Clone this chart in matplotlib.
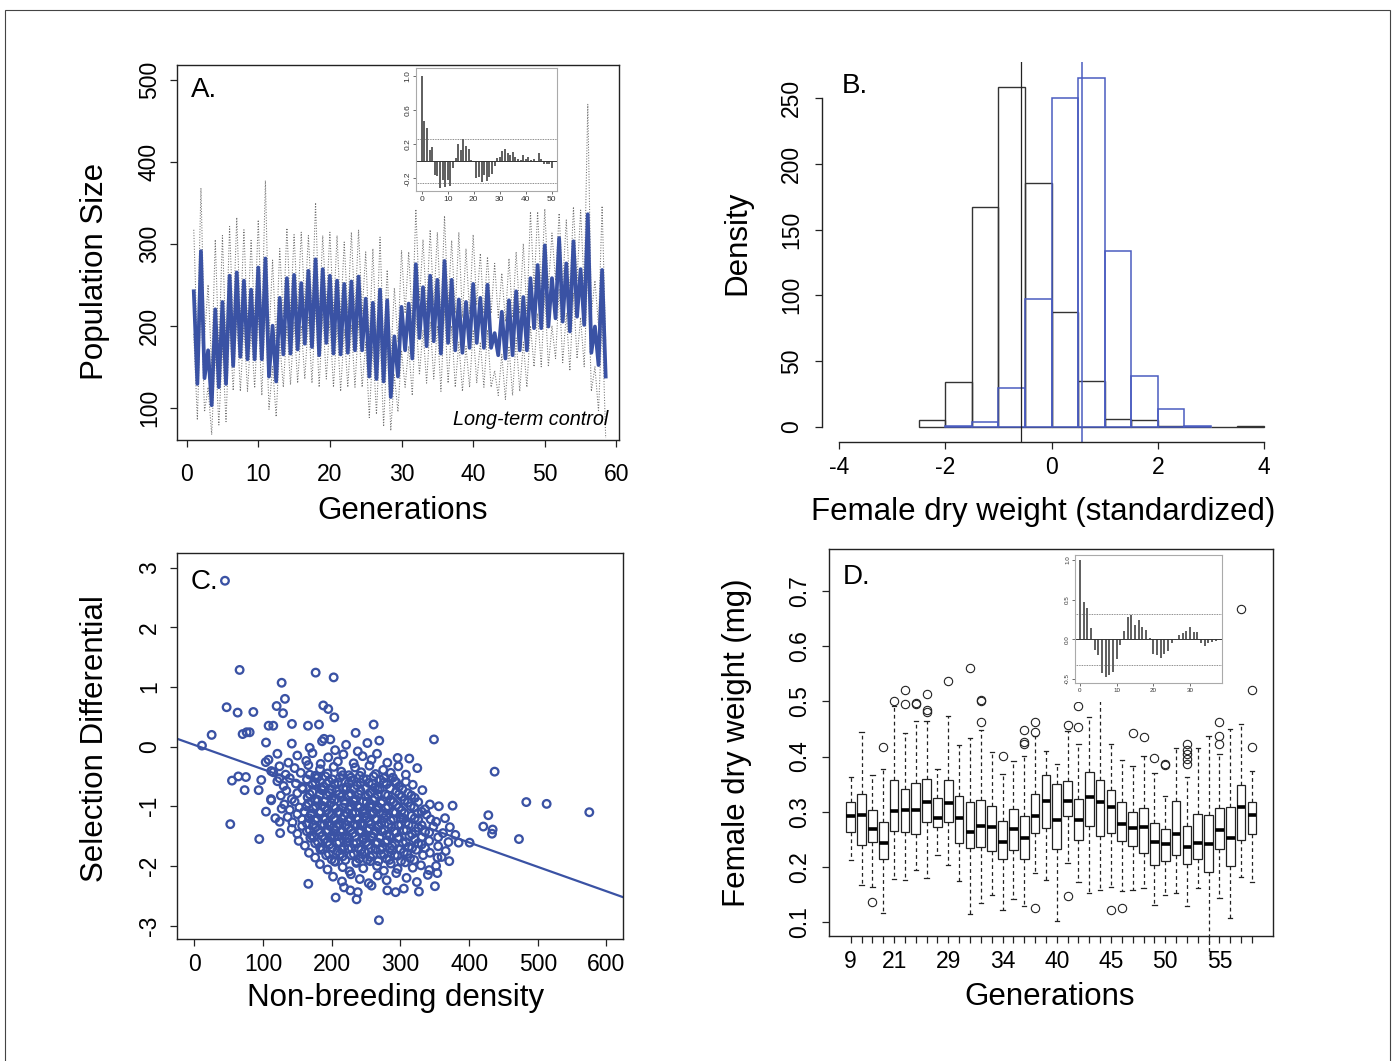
import numpy as np
import matplotlib.pyplot as plt
from matplotlib.patches import Rectangle

plt.rcParams['font.family'] = ['Liberation Sans', 'DejaVu Sans']
plt.rcParams['axes.unicode_minus'] = False

W, H = 1393, 1061
BLUE = '#3a52a4'
INK = '#222222'

# ---------------- data ----------------
# A: population size, two censuses per generation
pop_mean = [242,129,291,136,170,103,220,125,229,129,261,151,265,162,255,159,244,159,271,159,282,138,200,132,234,165,258,166,262,
            171,252,178,267,174,281,164,269,179,261,166,255,165,251,167,254,170,260,170,233,138,228,135,244,132,231,113,187,138,
            223,170,227,160,275,185,247,175,261,181,256,166,279,179,256,170,232,167,229,173,251,179,234,173,250,173,191,164,217,
            160,231,164,242,170,235,170,258,197,274,197,298,199,258,209,307,205,276,193,303,211,269,201,336,167,199,152,268,138]
pop_upper = [317,175,368,185,250,150,305,170,310,175,321,200,332,205,317,200,304,205,329,200,377,185,280,180,294,210,319,215,311,
             220,314,225,310,220,350,210,310,225,314,215,310,210,302,215,314,215,317,215,290,180,294,180,308,175,268,160,246,180,
             292,215,290,205,342,230,305,220,317,225,314,210,334,225,304,215,314,210,294,215,311,225,288,215,284,215,276,210,264,
             205,282,210,290,215,300,215,339,245,339,245,343,245,313,255,337,250,329,240,345,255,341,245,470,215,255,200,346,180]
pop_lower = [190,85,235,95,125,67,170,79,175,83,205,121,210,120,200,120,195,124,215,115,225,98,150,89,180,125,200,128,205,
             130,200,135,210,130,225,125,215,135,205,125,200,120,195,125,200,125,205,125,180,88,175,92,190,77,180,72,140,95,
             170,125,175,115,215,140,195,130,205,135,200,120,220,130,200,125,180,120,175,125,195,130,180,125,195,125,145,115,165,
             110,175,115,185,120,180,125,200,150,215,150,240,150,200,160,245,155,215,145,240,160,210,150,270,120,150,95,210,63]
acf_pop = [1.0,0.47,0.39,0.13,0.17,-0.16,-0.17,-0.32,-0.22,-0.30,-0.22,-0.29,-0.08,0.035,0.20,0.13,0.26,0.185,0.145,0.02,
           -0.01,-0.20,-0.18,-0.24,-0.16,-0.23,-0.18,-0.15,-0.06,0.04,0.05,0.12,0.14,0.095,0.08,0.105,0.055,0.03,0.015,0.08,
           0.025,0.055,0.015,0.03,-0.005,0.095,0.025,-0.035,-0.03,-0.03,-0.075]
acf_pop_ci = 0.26

# B: histograms of standardized female dry weight
ctrl_edges = [-2.5,-2.0,-1.5,-1.0,-0.5,0.0,0.5,1.0,1.5,2.0,2.5,3.0,3.5,4.0]
ctrl_counts = [5,34,167,258,185,87,35,6,5,1,0,0,1]
sel_edges = [-2.0,-1.5,-1.0,-0.5,0.0,0.5,1.0,1.5,2.0,2.5,3.0]
sel_counts = [0.5,4,30,97,250,265,134,39,14,1]
ctrl_mean = -0.57
sel_mean = 0.58

# C: selection differential vs non-breeding density
sel_points = [
    (44.7,2.78),(66,1.285),(176.7,1.24),(202.9,1.16),(127.2,1.07),(132,0.80),(119.9,0.68),(129.2,0.56),
    (187.8,0.69),(195,0.63),(203.8,0.49),(47.1,0.66),(63.1,0.57),(86,0.58),(25.3,0.196),(11.2,0.017),
    (70.4,0.21),(76.2,0.24),(80.6,0.24),(104.4,0.068),(108.2,0.35),(115,0.35),(142.2,0.38),(165.5,0.35),
    (181.5,0.37),(261.1,0.37),(188.8,0.13),(234.9,0.23),(269.3,0.10),(348.9,0.12),(313,-0.2),(324.6,-0.36),
    (437.2,-0.42),(483.3,-0.93),(512.9,-0.96),(575,-1.10),(472.6,-1.55),(428,-1.15),(420.7,-1.34),(434.3,-1.39),
    (433.4,-1.46),(400.8,-1.61),(384.8,-1.61),(376,-0.99),(371.2,-1.92),(353.8,-2.12),(350.3,-2.34),(327,-2.43),
    (293.1,-2.44),(268.8,-2.91),(236.3,-2.56),(205.8,-2.53),(227.1,-2.41),(166,-2.30),(52.4,-1.30),(94.6,-1.55),
    (54.9,-0.57),(64.1,-0.50),(75.2,-0.51),(73.3,-0.73),(93.7,-0.73),(97.5,-0.56),(104.4,-1.09),(111.7,-0.88),
    (124.3,-1.26),(127.2,-1.04),(104,-0.26),(115,-0.43),(124,-0.53),
    (112,-0.9),(118,-1.2),(125,-1.45),(356,-1.0),(365,-1.2),(372,-1.35),(380,-1.48),(360,-1.85),(352,-2.0),(340,-2.15),
    (142,0.05),(168,-0.02),(186,0.09),(205,-0.06),(221,0.03),(238,-0.08),(252,0.06),(198,0.12),
    (108,-0.22),(121,-0.12),(137,-0.27),(150,-0.15),(163,-0.24),(172,-0.11),(184,-0.29),(195,-0.18),
    (209,-0.25),(217,-0.13),(232,-0.28),(245,-0.16),(258,-0.22),(266,-0.12),(281,-0.27),(296,-0.19),
    (112,-0.41),(124,-0.33),(133,-0.47),(146,-0.36),(155,-0.44),(166,-0.31),(176,-0.49),(183,-0.38),(194,-0.45),(203,-0.34),
    (214,-0.42),(225,-0.48),(234,-0.35),(243,-0.43),(255,-0.32),(264,-0.46),(275,-0.39),(286,-0.44),(297,-0.33),(308,-0.47),
    (121,-0.58),(130,-0.66),(139,-0.53),(148,-0.62),(157,-0.69),(164,-0.55),(172,-0.64),(180,-0.51),(188,-0.67),(196,-0.58),
    (204,-0.63),(212,-0.52),(221,-0.68),(229,-0.57),(237,-0.65),(246,-0.54),(254,-0.61),(263,-0.69),(271,-0.56),(280,-0.63),
    (289,-0.52),(298,-0.67),(308,-0.59),(318,-0.64),
    (126,-0.82),(134,-0.74),(142,-0.88),(150,-0.78),(158,-0.71),(165,-0.85),(172,-0.76),(179,-0.89),(186,-0.73),(193,-0.81),
    (200,-0.87),(207,-0.75),(214,-0.84),(221,-0.72),(228,-0.79),(235,-0.88),(242,-0.74),(249,-0.83),(256,-0.77),(263,-0.86),
    (270,-0.71),(278,-0.8),(286,-0.89),(294,-0.75),(302,-0.84),(311,-0.78),(321,-0.86),(332,-0.73),
    (131,-0.97),(139,-1.06),(146,-0.92),(153,-1.02),(160,-1.09),(166,-0.95),(173,-1.04),(180,-0.91),(186,-0.99),(193,-1.07),
    (199,-0.94),(206,-1.03),(212,-1.1),(219,-0.96),(225,-1.05),(232,-0.92),(238,-1.01),(245,-1.08),(251,-0.93),(258,-1.0),
    (265,-1.06),(272,-0.95),(279,-1.03),(286,-0.9),(294,-0.98),(302,-1.07),(311,-0.94),(320,-1.02),(331,-1.09),(343,-0.97),
    (136,-1.18),(143,-1.27),(150,-1.13),(157,-1.22),(164,-1.29),(170,-1.15),(176,-1.24),(182,-1.11),(188,-1.2),(194,-1.28),
    (200,-1.14),(206,-1.23),(212,-1.3),(218,-1.16),(224,-1.25),(230,-1.12),(236,-1.21),(242,-1.29),(248,-1.17),(254,-1.26),
    (260,-1.13),(266,-1.22),(272,-1.28),(279,-1.15),(286,-1.24),(293,-1.11),(300,-1.2),(308,-1.27),(316,-1.16),(326,-1.23),
    (338,-1.14),(352,-1.26),
    (142,-1.38),(150,-1.46),(157,-1.33),(164,-1.42),(171,-1.49),(177,-1.35),(183,-1.44),(189,-1.31),(195,-1.4),(201,-1.48),
    (207,-1.34),(213,-1.43),(219,-1.5),(225,-1.36),(231,-1.45),(237,-1.32),(243,-1.41),(249,-1.49),(255,-1.37),(261,-1.46),
    (267,-1.33),(273,-1.42),(280,-1.48),(287,-1.35),(294,-1.44),(301,-1.31),(309,-1.4),(317,-1.47),(326,-1.36),(336,-1.43),
    (348,-1.34),(362,-1.45),
    (152,-1.58),(161,-1.66),(169,-1.53),(176,-1.62),(183,-1.69),(190,-1.55),(197,-1.64),(204,-1.51),(211,-1.6),(218,-1.68),
    (225,-1.54),(232,-1.63),(239,-1.7),(246,-1.56),(253,-1.65),(260,-1.52),(267,-1.61),(274,-1.69),(281,-1.57),(288,-1.66),
    (296,-1.53),(304,-1.62),(312,-1.68),(321,-1.55),(331,-1.64),(342,-1.58),(355,-1.67),(370,-1.6),
    (167,-1.78),(176,-1.86),(184,-1.73),(192,-1.82),(200,-1.89),(208,-1.75),(216,-1.84),(224,-1.71),(232,-1.8),(240,-1.88),
    (248,-1.76),(256,-1.85),(264,-1.72),(272,-1.81),(280,-1.88),(288,-1.74),(296,-1.83),(305,-1.77),(314,-1.87),(323,-1.73),
    (333,-1.82),(343,-1.78),(354,-1.86),(366,-1.75),
    (183,-1.97),(194,-2.06),(205,-1.93),(216,-2.02),(226,-2.09),(236,-1.95),(246,-2.04),(256,-1.92),(266,-2.0),(276,-2.08),
    (286,-1.96),(296,-2.05),(307,-1.94),(318,-2.03),(330,-1.99),(342,-2.07),
    (202,-2.18),(215,-2.26),(228,-2.14),(241,-2.22),(254,-2.29),(267,-2.16),(280,-2.24),(294,-2.12),(309,-2.2),(324,-2.27),
    (218,-2.36),(238,-2.44),(258,-2.33),(281,-2.41),(305,-2.38),
    # dense core
    (168,-0.47),(178,-0.53),(191,-0.5),(201,-0.55),(216,-0.48),(228,-0.52),(241,-0.49),(251,-0.55),(261,-0.5),(276,-0.53),(292,-0.58),
    (176,-0.6),(185,-0.7),(193,-0.62),(200,-0.72),(209,-0.6),(217,-0.7),(225,-0.61),(233,-0.71),(242,-0.6),(250,-0.7),
    (259,-0.62),(267,-0.72),(276,-0.6),(285,-0.7),(294,-0.6),(303,-0.72),
    (168,-0.8),(176,-0.9),(183,-0.8),(190,-0.92),(197,-0.78),(204,-0.9),(211,-0.8),(218,-0.91),(225,-0.82),(232,-0.9),
    (239,-0.8),(246,-0.92),(253,-0.81),(260,-0.9),(267,-0.8),(274,-0.92),(282,-0.82),(290,-0.93),(298,-0.8),(306,-0.9),
    (316,-0.82),(326,-0.93),
    (163,-1.0),(170,-1.12),(177,-1.0),(184,-1.1),(190,-1.02),(196,-1.12),(203,-1.0),(209,-1.1),(216,-1.02),(222,-1.12),
    (228,-1.0),(235,-1.1),(241,-1.02),(248,-1.12),(255,-1.0),(261,-1.1),(268,-1.02),(275,-1.12),(282,-1.0),(290,-1.1),
    (298,-1.02),(306,-1.12),(315,-1.0),(325,-1.12),(336,-1.05),
    (167,-1.2),(173,-1.32),(179,-1.2),(185,-1.3),(191,-1.22),(197,-1.33),(203,-1.2),(209,-1.3),(215,-1.21),(221,-1.32),
    (227,-1.2),(233,-1.3),(239,-1.22),(245,-1.33),(251,-1.2),(257,-1.3),(263,-1.21),(269,-1.33),(276,-1.2),(283,-1.3),
    (290,-1.22),(297,-1.32),(304,-1.2),(312,-1.31),(321,-1.2),(331,-1.32),(344,-1.22),
    (168,-1.4),(174,-1.52),(180,-1.4),(186,-1.5),(192,-1.42),(198,-1.53),(204,-1.4),(210,-1.5),(216,-1.42),(222,-1.53),
    (228,-1.4),(234,-1.5),(240,-1.42),(246,-1.53),(252,-1.4),(258,-1.5),(264,-1.42),(270,-1.53),(277,-1.4),(284,-1.5),
    (291,-1.42),(298,-1.53),(305,-1.4),(313,-1.5),(322,-1.42),(331,-1.52),(342,-1.44),(355,-1.52),
    (180,-1.6),(187,-1.72),(194,-1.6),(201,-1.7),(208,-1.62),(215,-1.73),(222,-1.6),(229,-1.7),(236,-1.62),(243,-1.73),
    (250,-1.6),(257,-1.7),(264,-1.62),(271,-1.73),(278,-1.6),(285,-1.7),(292,-1.62),(300,-1.72),(308,-1.6),(317,-1.7),
    (326,-1.62),(336,-1.7),
    (196,-1.8),(204,-1.92),(212,-1.8),(220,-1.9),(228,-1.82),(236,-1.93),(244,-1.8),(252,-1.9),(260,-1.82),(268,-1.92),
    (276,-1.8),(284,-1.9),(292,-1.82),(301,-1.92),(310,-1.8),(320,-1.9),
]
sel_intercept = 0.029
sel_slope = -0.00409

# D: female dry weight per generation
d_gens = [9,12,15,18,21,23,25,27,28,29,30,31,32,33,34,35,36,37,39,40,
          41,42,43,44,45,46,47,48,49,50,51,52,53,54,55,56,57,58]
d_shown = [9,21,29,34,40,45,50,55]
d_whishi = [0.363,0.445,0.366,0.377,0.491,0.443,0.465,0.465,0.378,0.474,0.421,0.433,0.448,0.409,0.368,0.392,0.401,0.437,0.410,0.386,
            0.446,0.422,0.472,0.502,0.422,0.393,0.383,0.401,0.371,0.328,0.415,0.363,0.416,0.438,0.404,0.450,0.459,0.374]
d_q3 = [0.318,0.333,0.304,0.282,0.358,0.342,0.352,0.360,0.325,0.358,0.328,0.317,0.322,0.310,0.283,0.305,0.292,0.332,0.366,0.351,
        0.355,0.324,0.372,0.357,0.339,0.317,0.299,0.306,0.280,0.268,0.319,0.275,0.296,0.295,0.306,0.308,0.349,0.318]
d_med = [0.292,0.294,0.269,0.244,0.301,0.303,0.304,0.317,0.289,0.316,0.288,0.264,0.275,0.272,0.245,0.268,0.253,0.292,0.320,0.286,
         0.319,0.286,0.326,0.317,0.308,0.278,0.271,0.273,0.245,0.241,0.259,0.236,0.244,0.242,0.267,0.253,0.308,0.295]
d_q1 = [0.264,0.239,0.245,0.214,0.265,0.264,0.260,0.282,0.272,0.282,0.243,0.235,0.237,0.229,0.215,0.230,0.214,0.261,0.271,0.232,
        0.292,0.248,0.275,0.256,0.261,0.247,0.238,0.226,0.203,0.211,0.221,0.206,0.214,0.191,0.232,0.201,0.249,0.259]
d_whislo = [0.212,0.168,0.163,0.116,0.179,0.176,0.195,0.180,0.221,0.203,0.174,0.114,0.135,0.150,0.123,0.142,0.129,0.189,0.176,0.102,
            0.208,0.173,0.152,0.158,0.164,0.156,0.159,0.162,0.132,0.149,0.152,0.130,0.162,0.040,0.144,0.108,0.182,0.173]
d_out = [[],[],[0.137],[0.418],[0.500],[0.520,0.495],[0.497,0.496],[0.514,0.485,0.481],[],[0.537],
         [],[0.560],[0.503,0.501,0.462],[],[0.401],[],[0.449,0.427,0.422],[0.462,0.445,0.126],[],[],
         [0.458,0.148],[0.491,0.453],[],[],[0.122],[0.125],[0.442],[0.435],[0.398],[0.386,0.384],
         [],[0.422,0.412,0.404,0.395,0.386],[],[],[0.462,0.438,0.422],[],[0.667],[0.520,0.418]]
acf_weight = [1.0,0.475,0.40,0.14,-0.13,-0.20,-0.42,-0.48,-0.45,-0.41,-0.25,-0.07,0.11,0.28,0.31,0.18,0.24,0.15,0.12,0.02,
              -0.18,-0.20,-0.24,-0.18,-0.15,-0.05,-0.01,0.06,0.08,0.11,0.16,0.09,0.09,-0.04,-0.08,-0.05,-0.03,-0.02]
acf_weight_ci = 0.32

# ---------------- helpers ----------------
fig = plt.figure(figsize=(W / 100, H / 100), dpi=100)


def px_axes(l, t, r, b):
    return fig.add_axes([l / W, 1 - b / H, (r - l) / W, (b - t) / H])


def r_style(ax, xpad, ypad, frame=True, size=16.5, length=5):
    for s in ax.spines.values():
        s.set_color(INK)
        s.set_linewidth(1.0)
        s.set_visible(frame)
    ax.tick_params(direction='out', length=length, width=0.9, color=INK, labelsize=size)
    ax.tick_params(axis='x', pad=xpad)
    ax.tick_params(axis='y', pad=ypad, labelrotation=90)


def fix_ylabels(ax):
    plt.setp(ax.get_yticklabels(), va='center')


def ftext(x, y, s, **kw):
    fig.text(x / W, 1 - y / H, s, **kw)


def inset_acf(bg, frame, acf, ci, xlim, ylim, xt, yt, ytl, size):
    back = px_axes(*bg)
    back.set_xticks([])
    back.set_yticks([])
    for s in back.spines.values():
        s.set_visible(False)
    ax = px_axes(*frame)
    lags = np.arange(len(acf))
    ax.vlines(lags, 0, acf, color='#333333', lw=1.1)
    ax.axhline(0, color='#333333', lw=0.7)
    ax.axhline(ci, color='#666666', lw=0.6, ls=(0, (1, 1)))
    ax.axhline(-ci, color='#666666', lw=0.6, ls=(0, (1, 1)))
    ax.set_xlim(*xlim)
    ax.set_ylim(*ylim)
    ax.set_xticks(xt)
    ax.set_yticks(yt)
    ax.set_yticklabels(ytl)
    for s in ax.spines.values():
        s.set_color('#aaaaaa')
        s.set_linewidth(0.8)
    ax.tick_params(direction='out', length=2, width=0.6, color='#555555', labelsize=size, pad=1.5,
                   labelcolor='#333333')
    ax.tick_params(axis='y', labelrotation=90)
    fix_ylabels(ax)
    return ax


# ---------------- panel A ----------------
axA = px_axes(177.3, 65, 619.3, 440)
gen = np.arange(1, 59, 0.5)
axA.plot(gen, pop_upper, color='#707070', lw=0.75, ls=(0, (1, 1.6)))
axA.plot(gen, pop_lower, color='#707070', lw=0.75, ls=(0, (1, 1.6)))
axA.plot(gen, pop_mean, color=BLUE, lw=2.7)
axA.set_xlim(-1.3, 60.4)
axA.set_ylim(60.6, 518)
axA.set_xticks(range(0, 61, 10))
axA.set_yticks(range(100, 501, 100))
r_style(axA, 11.5, 6.8)
fix_ylabels(axA)
ftext(191, 90, 'A.', fontsize=20, va='center', ha='left')
ftext(608, 419, 'Long-term control', fontsize=14.3, style='italic', ha='right', va='center')
ftext(95, 271, 'Population Size', fontsize=22.5, rotation=90, ha='center', va='center')
ftext(403, 511, 'Generations', fontsize=22.5, ha='center', va='center')

inset_acf((392, 67, 562, 209), (416, 68, 557, 191), acf_pop, acf_pop_ci,
          (-2.2, 52.0), (-0.35, 1.10), range(0, 51, 10), [-0.2, 0.2, 0.6, 1.0],
          ['-0.2', '0.2', '0.6', '1.0'], 6)

# ---------------- panel B ----------------
axB = px_axes(822, 62, 1281, 442)
axB.bar(ctrl_edges[:-1], ctrl_counts, width=0.5, align='edge', fill=False, edgecolor='#333333', linewidth=1.0)
axB.bar(sel_edges[:-1], sel_counts, width=0.5, align='edge', fill=False, edgecolor='#4a5cc0', linewidth=1.1)
axB.axvline(ctrl_mean, color='#222222', lw=0.9)
axB.axvline(sel_mean, color='#4a5cc0', lw=1.1)
axB.set_xlim(-4.32, 4.32)
axB.set_ylim(-11.4, 277.3)
axB.set_xticks(range(-4, 5, 2))
axB.set_yticks(range(0, 251, 50))
r_style(axB, 5.4, 8.8, frame=False)
axB.spines['left'].set_visible(True)
axB.spines['bottom'].set_visible(True)
axB.spines['left'].set_bounds(0, 250)
axB.spines['bottom'].set_bounds(-4, 4)
fix_ylabels(axB)
ftext(842, 86, 'B.', fontsize=20, va='center', ha='left')
ftext(737, 243, 'Density', fontsize=22.5, rotation=90, ha='center', va='center')
ftext(1043, 512, 'Female dry weight (standardized)', fontsize=22.5, ha='center', va='center')

# ---------------- panel C ----------------
axC = px_axes(177.3, 553.3, 623.3, 939.3)
dens = [p[0] for p in sel_points]
sdiff = [p[1] for p in sel_points]
axC.axline((0, sel_intercept), slope=sel_slope, color=BLUE, lw=1.6, zorder=2)
axC.scatter(dens, sdiff, s=30, facecolors='none', edgecolors=BLUE, linewidths=1.65, zorder=3)
axC.set_xlim(-24.7, 624.5)
axC.set_ylim(-3.23, 3.24)
axC.set_xticks(range(0, 601, 100))
axC.set_yticks(range(-3, 4))
r_style(axC, 5.2, 6.8)
fix_ylabels(axC)
ftext(191, 582, 'C.', fontsize=20, va='center', ha='left')
ftext(95, 739, 'Selection Differential', fontsize=22.5, rotation=90, ha='center', va='center')
ftext(396, 998, 'Non-breeding density', fontsize=22.5, ha='center', va='center')

# ---------------- panel D ----------------
axD = px_axes(829, 549, 1273, 936)
pos = np.arange(1, len(d_gens) + 1)
stats = []
for i in range(len(d_gens)):
    stats.append(dict(med=d_med[i], q1=d_q1[i], q3=d_q3[i], whislo=d_whislo[i],
                      whishi=d_whishi[i], fliers=d_out[i]))
parts = axD.bxp(stats, positions=pos, widths=0.8, capwidths=0.4, patch_artist=True, manage_ticks=False,
                boxprops=dict(facecolor='white', edgecolor=INK, linewidth=0.9),
                medianprops=dict(color='black', linewidth=2.6, solid_capstyle='butt'),
                whiskerprops=dict(color=INK, linewidth=0.9, linestyle=(0, (3, 2.5))),
                capprops=dict(color=INK, linewidth=0.9),
                flierprops=dict(marker='o', markerfacecolor='none', markeredgecolor=INK,
                                markersize=6, markeredgewidth=0.8))
for w in parts['whiskers']:
    w.set_clip_on(False)
axD.set_xlim(-1.0, 39.94)
axD.set_ylim(0.075, 0.776)
axD.set_xticks(pos)
axD.set_xticklabels([str(g) if g in d_shown else '' for g in d_gens])
axD.set_yticks([0.1, 0.2, 0.3, 0.4, 0.5, 0.6, 0.7])
r_style(axD, 5.4, 8.0)
fix_ylabels(axD)
ftext(843, 577, 'D.', fontsize=20, va='center', ha='left')
ftext(737, 743, 'Female dry weight (mg)', fontsize=22.5, rotation=90, ha='center', va='center')
ftext(1050, 997, 'Generations', fontsize=22.5, ha='center', va='center')

inset_acf((1056, 552, 1226, 702), (1075, 555, 1222, 683), acf_weight, acf_weight_ci,
          (-1.36, 38.7), (-0.55, 1.063), [0, 10, 20, 30], [-0.5, 0.0, 0.5, 1.0],
          ['-0.5', '0.0', '0.5', '1.0'], 4.5)

# outer frame of the figure
fig.add_artist(Rectangle((5 / W, -0.02), 1385 / W, (H - 10) / H + 0.02, transform=fig.transFigure,
                         fill=False, edgecolor='#444444', linewidth=0.8))

fig.savefig('out.png', dpi=100)
